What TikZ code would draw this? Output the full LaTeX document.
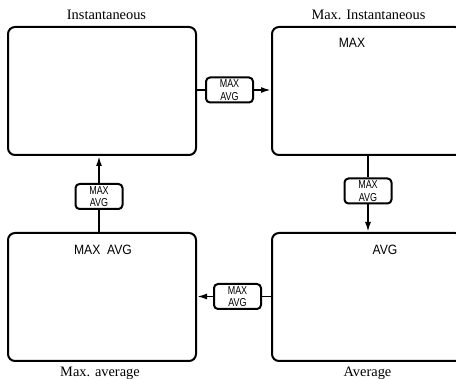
\documentclass[tikz,border=0pt]{standalone}
\usepackage{fontspec}
\setmainfont{Liberation Serif}
\newfontfamily\insans[FakeStretch=0.9]{Liberation Sans}
\newfontfamily\smsans[FakeStretch=0.78]{Liberation Sans}
\usetikzlibrary{arrows.meta}
\begin{document}
\begin{tikzpicture}[x=1pt,y=-1pt,
  bigbox/.style={draw,line width=2pt,rounded corners=7pt,minimum height=128pt,inner sep=0pt},
  smbox/.style={draw,line width=2pt,rounded corners=4pt,fill=white,minimum width=47pt,minimum height=25pt,inner sep=0.5pt,align=center,font=\smsans\fontsize{11.5}{12.5}\selectfont},
  title/.style={anchor=base,font=\fontsize{14.4}{16}\selectfont},
  intext/.style={anchor=base,font=\insans\fontsize{13.5}{15}\selectfont},
  conn/.style={line width=1.8pt},
  arr/.style={conn,-{Latex[length=10pt,width=6pt]}}]
\useasboundingbox (0,0) rectangle (456,379);
\node[bigbox,minimum width=188pt] (TL) at (102,91) {};
\node[bigbox,minimum width=190pt] (TR) at (367,91) {};
\node[bigbox,minimum width=188pt] (BL) at (102,297) {};
\node[bigbox,minimum width=190pt] (BR) at (367,297) {};
\node[title] (t1) at (106.5,19.5) {Instantaneous};
\node[title] (t2) at (368.5,19.5) {Max. Instantaneous};
\node[title] (t3) at (100,376.5) {Max. average};
\node[title] (t4) at (367.5,376.5) {Average};
\node[intext] (i1) at (352,48) {MAX};
\node[intext] (i2) at (103,255) {MAX\ \ AVG};
\node[intext] (i3) at (385,255) {AVG};
\node[smbox] (s1) at (229.5,90) {MAX\\AVG};
\node[smbox] (s2) at (368,191) {MAX\\AVG};
\node[smbox] (s3) at (99,196.5) {MAX\\AVG};
\node[smbox] (s4) at (237.5,296.5) {MAX\\AVG};
\draw[conn] (TL.east |- s1.west) -- (s1.west);
\draw[arr] (s1.east) -- (s1.east -| TR.west);
\draw[conn] (s2.north |- TR.south) -- (s2.north);
\draw[arr] (s2.south) -- (s2.south |- BR.north);
\draw[conn] (s3.south |- BL.north) -- (s3.south);
\draw[arr] (s3.north) -- (s3.north |- TL.south);
\draw[conn] (s4.east -| BR.west) -- (s4.east);
\draw[arr] (s4.west) -- (s4.west -| BL.east);
\end{tikzpicture}
\end{document}
